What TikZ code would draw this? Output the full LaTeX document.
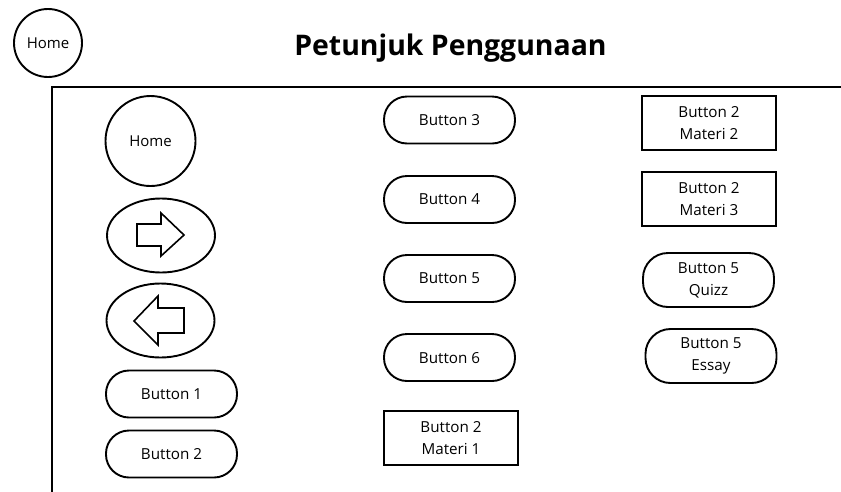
\documentclass[tikz,border=0pt]{standalone}
\usepackage{fontspec}
\setmainfont{Open Sans}
\usetikzlibrary{shapes.geometric}
\begin{document}
\begin{tikzpicture}[x=1pt,y=-1pt,
  outline/.style={draw=black,line width=1.9pt},
  pill/.style={outline,rectangle,rounded corners=23pt,minimum width=131pt,minimum height=47pt,inner sep=0pt,font=\fontsize{15.2}{19}\selectfont,text depth=0pt,yshift=-0.5pt},
  pilltall/.style={outline,rectangle,rounded corners=25pt,minimum width=131pt,minimum height=54pt,inner sep=0pt,align=center,font=\fontsize{15.2}{22}\selectfont},
  boxbtn/.style={outline,rectangle,minimum width=134pt,minimum height=54pt,inner sep=0pt,align=center,font=\fontsize{15.2}{22}\selectfont},
  roundbtn/.style={outline,circle,inner sep=0pt},
  ovalbtn/.style={outline,ellipse,minimum width=108pt,minimum height=74pt,inner sep=0pt},
  arrowglyph/.style={draw=black,line width=1.6pt,line join=miter}
]
\useasboundingbox (0,0) rectangle (841,491);

% header
\node[roundbtn,minimum size=68pt,font=\fontsize{15}{18}\selectfont] (home0) at (48,43) {Home};
\node[font=\fontsize{28.4}{34}\selectfont\bfseries] (title) at (450.5,48) {Petunjuk Penggunaan};

% open frame around the button list
\draw[line width=2.4pt] (842,87) coordinate (frameR) -- (52,87) coordinate (frameC) -- (52,492) coordinate (frameB);

% first column
\node[roundbtn,minimum size=90pt,font=\fontsize{15}{18}\selectfont] (home) at (150.5,141) {Home};
\node[ovalbtn] (next) at (161,235.5) {};
\node[ovalbtn] (prev) at (160.5,320.5) {};
\draw[arrowglyph] (137,224) -- (161,224) -- (161,213) -- (184,235) -- (161,256) -- (161,246) -- (137,246) -- cycle;
\draw[arrowglyph] (134,321) -- (158,296) -- (158,308) -- (184,308) -- (184,333) -- (158,333) -- (158,345) -- cycle;
\node[pill] (b1) at (171.5,393.5) {Button 1};
\node[pill] (b2) at (171.5,453.5) {Button 2};

% second column
\node[pill] (b3) at (449.5,119.5) {Button 3};
\node[pill] (b4) at (449.5,199) {Button 4};
\node[pill] (b5) at (449.5,278) {Button 5};
\node[pill] (b6) at (449.5,357) {Button 6};
\node[boxbtn] (m1) at (451,438) {Button 2\\Materi 1};

% third column
\node[boxbtn] (m2) at (709,123) {Button 2\\Materi 2};
\node[boxbtn] (m3) at (709,199) {Button 2\\Materi 3};
\node[pilltall] (quiz) at (708.5,280) {Button 5\\Quizz};
\node[pilltall] (essay) at (711,356) {Button 5\\Essay};
\end{tikzpicture}
\end{document}
